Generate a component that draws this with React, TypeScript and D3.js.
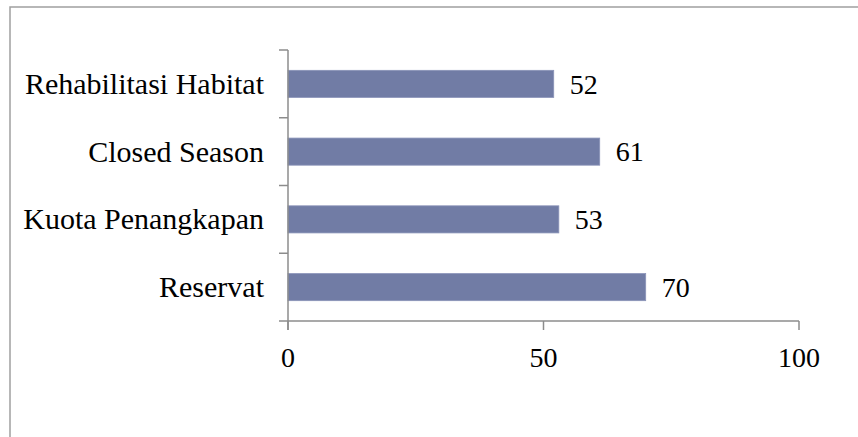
import React from "react";
import * as d3 from "d3";

const categories = ["Rehabilitasi Habitat", "Closed Season", "Kuota Penangkapan", "Reservat"];
const values = [52, 61, 53, 70];
const xTicks = [0, 50, 100];

const W = 858;
const H = 437;
const FONT = "'Liberation Serif', 'Times New Roman', serif";

export default function App() {
  const x = d3.scaleLinear().domain([0, 100]).range([288, 799]);
  const y = d3.scaleBand<string>().domain(categories).range([50, 321]).paddingInner(0).paddingOuter(0);
  const bw = y.bandwidth();
  const barH = bw * 0.4;
  const axisColor = "#8c8c8c";
  const boundaries = [...categories.map((c) => y(c) as number), 321];

  return (
    <svg
      width={W}
      height={H}
      style={{ position: "absolute", left: 0, top: 0, background: "#fff" }}
    >
      {/* frame */}
      <path d={`M10,${H} V7 H${W}`} fill="none" stroke="#a0a0a0" strokeWidth={1.5} />

      {/* bars */}
      {categories.map((c, i) => {
        const cy = (y(c) as number) + bw / 2;
        return (
          <g key={c}>
            <rect
              x={x(0)}
              y={cy - barH / 2}
              width={x(values[i]) - x(0)}
              height={barH}
              fill="#717ca5"
              stroke="#8a93b8"
              strokeWidth={0.8}
            />
            <text
              x={x(values[i]) + 16}
              y={cy}
              dy="0.35em"
              fontFamily={FONT}
              fontSize={28}
              fill="#000"
            >
              {values[i]}
            </text>
            <text
              x={264}
              y={cy}
              dy="0.33em"
              textAnchor="end"
              fontFamily={FONT}
              fontSize={30}
              fill="#000"
            >
              {c}
            </text>
          </g>
        );
      })}

      {/* y axis */}
      <line x1={x(0)} x2={x(0)} y1={50} y2={330} stroke={axisColor} strokeWidth={1.5} />
      {boundaries.map((b, i) => (
        <line key={i} x1={279} x2={x(0)} y1={b} y2={b} stroke={axisColor} strokeWidth={1.5} />
      ))}

      {/* x axis */}
      <line x1={x(0)} x2={x(100)} y1={321} y2={321} stroke={axisColor} strokeWidth={1.5} />
      {xTicks.map((t) => (
        <g key={t}>
          <line x1={x(t)} x2={x(t)} y1={321} y2={330} stroke={axisColor} strokeWidth={1.5} />
          <text
            x={x(t)}
            y={367}
            textAnchor="middle"
            fontFamily={FONT}
            fontSize={28}
            fill="#000"
          >
            {t}
          </text>
        </g>
      ))}
    </svg>
  );
}
